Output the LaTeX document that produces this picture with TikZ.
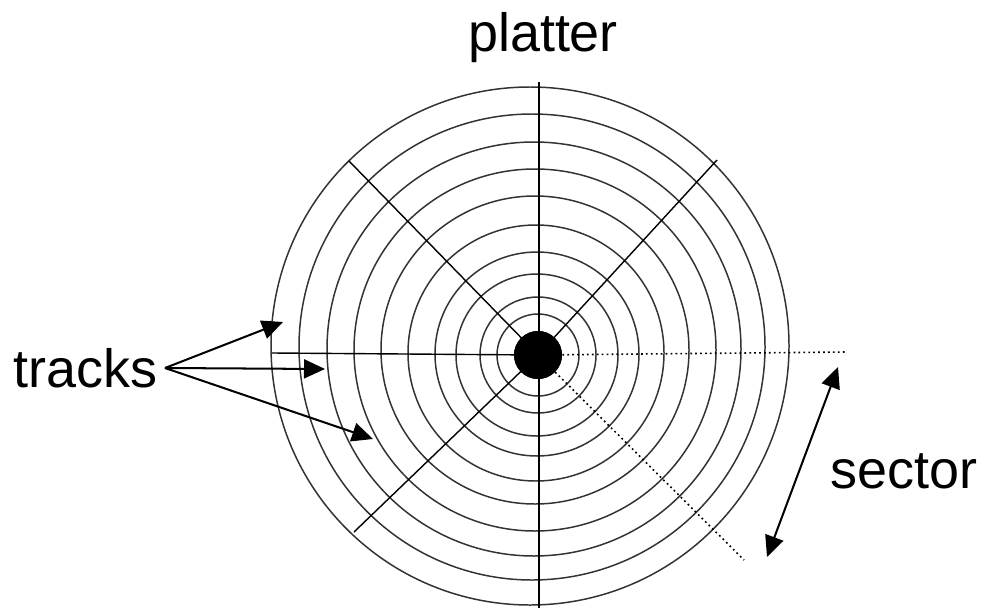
\documentclass[tikz,border=0pt]{standalone}
\usepackage{fontspec}
\setmainfont{Liberation Sans}
\usetikzlibrary{arrows.meta}
\usetikzlibrary{positioning}

\begin{document}
\begin{tikzpicture}[x=0.02cm,y=-0.02cm,
  track/.style={draw=black!80,line width=0.85pt},
  spoke/.style={draw=black,line width=0.8pt},
  gap/.style={draw=black,line width=0.9pt,dash pattern=on 1pt off 1.8pt},
  pointer/.style={draw=black,line width=1.15pt,-{Triangle[length=0.42cm,width=0.38cm]}},
  span/.style={draw=black,line width=1.15pt,{Triangle[length=0.42cm,width=0.38cm]}-{Triangle[length=0.42cm,width=0.38cm]}},
  tag/.style={font=\fontsize{30.7}{36}\selectfont,inner sep=0pt}]
\useasboundingbox (0,0) rectangle (983,608);

\foreach \r/\cx/\cy in {259/530/346,233/532/347,207/534/349,181/535/350,154/535/350,128/536/353,102/537/354,81/537/355,58/538/355,41/538/355}
  \draw[track] (\cx,\cy) circle[radius=\r];

\coordinate (top) at (539,82);
\coordinate (bottom) at (539,608);
\coordinate (west) at (272,353);
\coordinate (east) at (847,352);
\coordinate (nw) at (349,161);
\coordinate (ne) at (717,160);
\coordinate (sw) at (354,532);
\coordinate (se) at (744,560);
\node[circle,fill=black,minimum size=0.96cm,inner sep=0pt] (hub) at (538,355) {};

\draw[spoke] (top) -- (bottom);
\draw[spoke] (west) -- (hub.center);
\draw[spoke] (nw) -- (hub.center);
\draw[spoke] (ne) -- (hub.center);
\draw[spoke] (sw) -- (hub.center);
\draw[gap] (hub) -- (east);
\draw[gap] (hub) -- (se);
\node[circle,fill=black,minimum size=0.96cm,inner sep=0pt] at (hub) {};

\node[tag,anchor=base] (platter) at (543,52) {platter};

\coordinate (fan) at (165,368);
\node[tag,left=0.14cm of fan] (tracks) {tracks};
\coordinate (t1) at (283,322);
\coordinate (t2) at (325,369);
\coordinate (t3) at (373,439);
\draw[pointer] (fan) -- (t1);
\draw[pointer] (fan) -- (t2);
\draw[pointer] (fan) -- (t3);

\node[tag,anchor=base west] (sector) at (830,488) {sector};
\coordinate (s1) at (838,367);
\coordinate (s2) at (767,557);
\draw[span] (s2) -- (s1);

\end{tikzpicture}
\end{document}
